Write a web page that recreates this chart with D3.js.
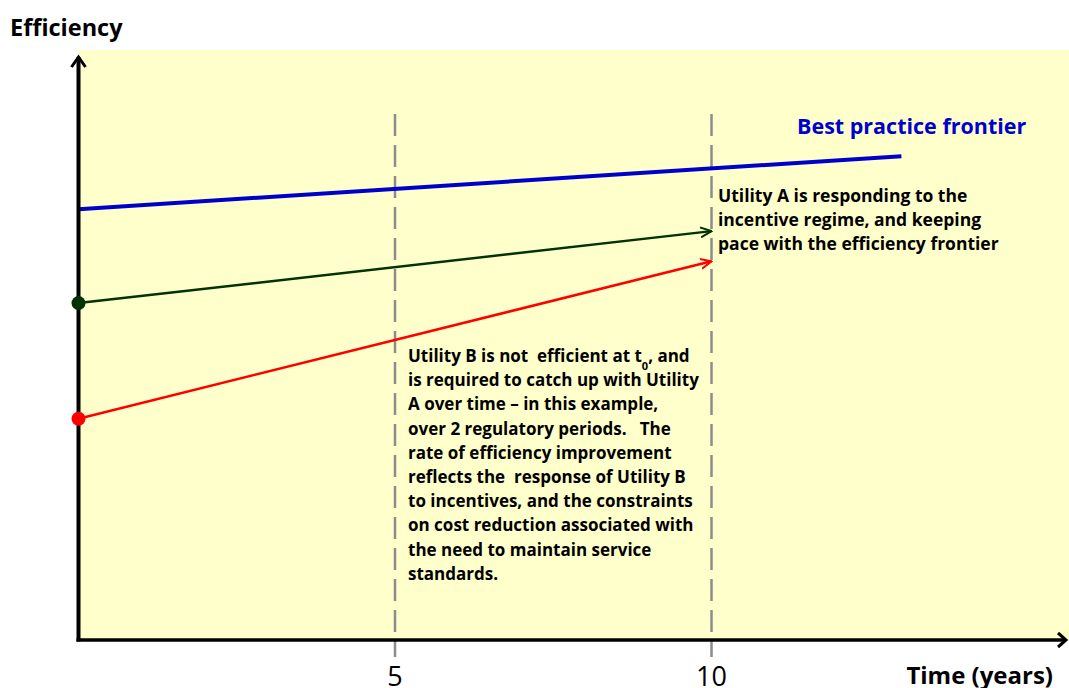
<!DOCTYPE html>
<html>
<head>
<meta charset="utf-8">
<script src="https://cdn.jsdelivr.net/npm/d3@7"></script>
<style>
  body { margin: 0; background: #fff; }
  svg text { font-family: "Open Sans", Lato, sans-serif; }
</style>
</head>
<body>
<div id="chart"></div>
<script>
// data (time in years, efficiency on an arbitrary 0-100 scale)
const frontierTime = [0, 13];
const frontierEff = [73.0, 82.0];
const utilityATime = [0, 10];
const utilityAEff = [57.1, 69.3];
const utilityBTime = [0, 10];
const utilityBEff = [37.5, 64.2];
const periodTicks = [5, 10];
const noteA = [
  "Utility A is responding to the",
  "incentive regime, and keeping",
  "pace with the efficiency frontier"
];
const noteB = [
  "Utility B is not  efficient at t|0|, and",
  "is required to catch up with Utility",
  "A over time \u2013 in this example,",
  "over 2 regulatory periods.   The",
  "rate of efficiency improvement",
  "reflects the  response of Utility B",
  "to incentives, and the constraints",
  "on cost reduction associated with",
  "the need to maintain service",
  "standards."
];

let w = 1069;
let h = 688;
let margin = {top: 50, right: 0, bottom: 48, left: 78.5};

const svg = d3.select("#chart")
  .append("svg")
  .attr("width", w)
  .attr("height", h);

let x = d3.scaleLinear()
  .domain([0, 15.6])
  .range([margin.left, 1066]);
let y = d3.scaleLinear()
  .domain([0, 100])
  .range([h - margin.bottom, margin.top]);

// plot background
svg.append("rect")
  .attr("x", margin.left)
  .attr("y", margin.top)
  .attr("width", w - margin.left)
  .attr("height", y(0) - margin.top)
  .attr("fill", "#FFFFCC");

// dashed period lines
svg.selectAll(".period")
  .data(periodTicks)
  .enter()
  .append("line")
  .attr("class", "period")
  .attr("x1", d => x(d))
  .attr("x2", d => x(d))
  .attr("y1", 114)
  .attr("y2", 657)
  .style("stroke", "#8c8c8c")
  .style("stroke-width", 2.5)
  .style("stroke-dasharray", "22,9");

// arrow markers
let defs = svg.append("defs");
[["arrGreen", "#003300"], ["arrRed", "#FF0000"]].forEach(([id, c]) => {
  defs.append("marker")
    .attr("id", id)
    .attr("viewBox", "0 0 12 12")
    .attr("refX", 11)
    .attr("refY", 6)
    .attr("markerWidth", 12)
    .attr("markerHeight", 12)
    .attr("markerUnits", "userSpaceOnUse")
    .attr("orient", "auto")
    .append("path")
    .attr("d", "M0,1 L11,6 L0,11")
    .style("fill", "none")
    .style("stroke", c)
    .style("stroke-width", 2);
});

let line = d3.line().x(d => x(d[0])).y(d => y(d[1]));

// frontier
svg.append("path")
  .attr("d", line(d3.zip(frontierTime, frontierEff)))
  .style("fill", "none")
  .style("stroke", "#0000CC")
  .style("stroke-width", 4);

// utility A
svg.append("path")
  .attr("d", line(d3.zip(utilityATime, utilityAEff)))
  .attr("marker-end", "url(#arrGreen)")
  .style("fill", "none")
  .style("stroke", "#003300")
  .style("stroke-width", 2.5);

// utility B
svg.append("path")
  .attr("d", line(d3.zip(utilityBTime, utilityBEff)))
  .attr("marker-end", "url(#arrRed)")
  .style("fill", "none")
  .style("stroke", "#FF0000")
  .style("stroke-width", 2.5);

// axes (drawn as arrows)
svg.append("line")
  .attr("x1", margin.left).attr("y1", y(0) + 1.5)
  .attr("x2", margin.left).attr("y2", 57)
  .style("stroke", "#000").style("stroke-width", 4);
svg.append("path")
  .attr("d", `M${margin.left - 7},${67} L${margin.left},${57} L${margin.left + 7},${67}`)
  .style("fill", "none").style("stroke", "#000").style("stroke-width", 3);
svg.append("line")
  .attr("x1", margin.left - 2).attr("y1", y(0))
  .attr("x2", 1064).attr("y2", y(0))
  .style("stroke", "#000").style("stroke-width", 3.5);
svg.append("path")
  .attr("d", `M${1058},${y(0) - 7} L${1066},${y(0)} L${1058},${y(0) + 7}`)
  .style("fill", "none").style("stroke", "#000").style("stroke-width", 3);

// start points
svg.selectAll(".start")
  .data([[utilityATime[0], utilityAEff[0], "#003300"], [utilityBTime[0], utilityBEff[0], "#FF0000"]])
  .enter()
  .append("circle")
  .attr("cx", d => x(d[0]))
  .attr("cy", d => y(d[1]))
  .attr("r", 7)
  .style("fill", d => d[2]);

// tick labels
svg.selectAll(".tick-label")
  .data(periodTicks)
  .enter()
  .append("text")
  .attr("x", d => x(d))
  .attr("y", 686)
  .attr("text-anchor", "middle")
  .style("font-size", "27px")
  .style("fill", "#000")
  .text(d => d);

svg.append("text")
  .attr("x", 10).attr("y", 36)
  .style("font-size", "23.5px").style("font-weight", "bold")
  .text("Efficiency");

svg.append("text")
  .attr("x", 1053).attr("y", 684)
  .attr("text-anchor", "end")
  .style("font-size", "24px").style("font-weight", "bold")
  .text("Time (years)");

svg.append("text")
  .attr("x", 797).attr("y", 134)
  .style("font-size", "21.5px").style("font-weight", "bold")
  .style("fill", "#0000CC")
  .text("Best practice frontier");

// notes
svg.append("g").selectAll("text")
  .data(noteA)
  .enter()
  .append("text")
  .attr("x", 718)
  .attr("y", (d, i) => 202 + i * 24)
  .style("font-size", "17.5px").style("font-weight", "bold")
  .style("white-space", "pre")
  .text(d => d);

let noteBText = svg.append("g").selectAll("text")
  .data(noteB)
  .enter()
  .append("text")
  .attr("x", 408)
  .attr("y", (d, i) => 362 + i * 24.2)
  .style("font-size", "17px").style("font-weight", "bold")
  .style("white-space", "pre");

noteBText.each(function(d) {
  let parts = d.split("|");
  let t = d3.select(this);
  parts.forEach((p, i) => {
    let span = t.append("tspan").text(p);
    if (i == 1) span.attr("baseline-shift", "sub").style("font-size", "11px");
  });
});
</script>
</body>
</html>
